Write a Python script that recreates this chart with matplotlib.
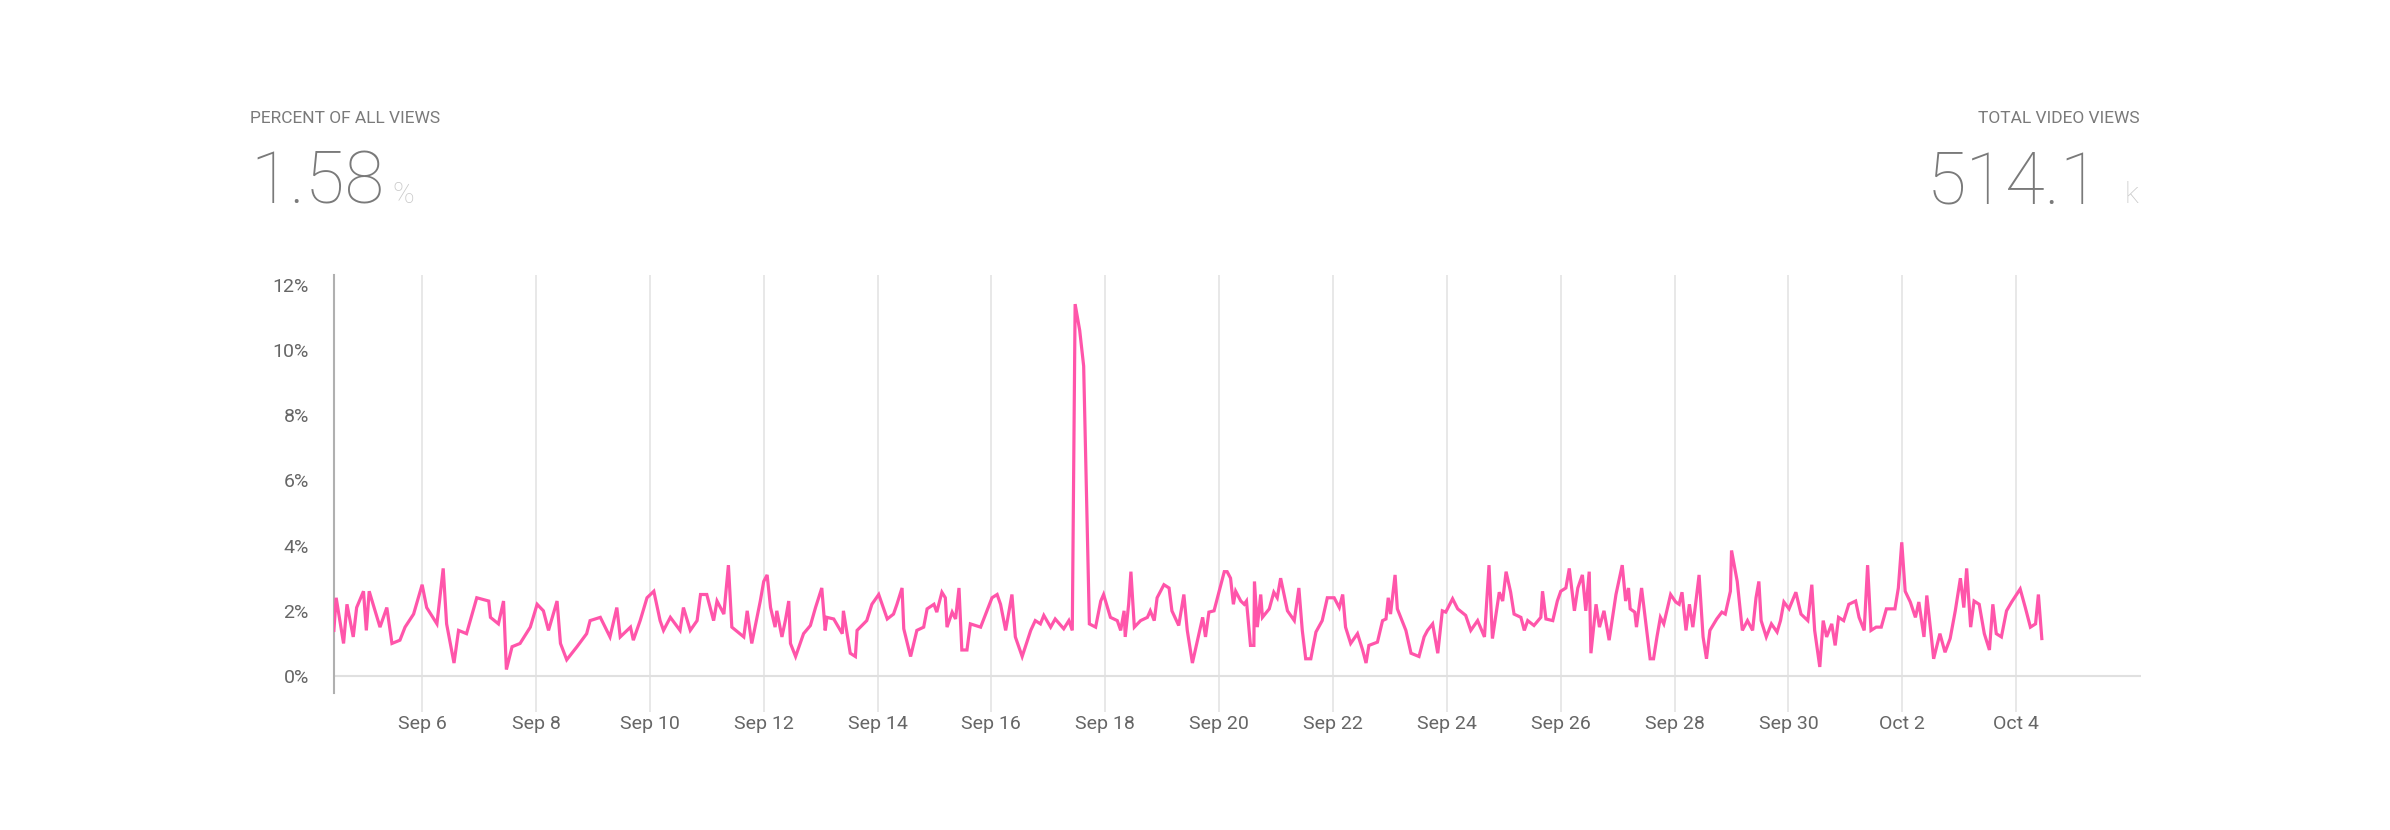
import datetime as dt
import matplotlib
matplotlib.use("Agg")
import matplotlib.pyplot as plt
import matplotlib.dates as mdates
from matplotlib.ticker import FuncFormatter

# day of month (Sep 1 = 1, Oct 1 = 31), fractional
days = [4.45, 4.49, 4.62, 4.68, 4.79, 4.85, 4.97, 5.02, 5.07, 5.26, 5.38, 5.47, 5.61, 5.70, 5.85,
        6.00, 6.08, 6.26, 6.37, 6.43, 6.56, 6.64, 6.78, 6.96, 7.17, 7.20, 7.34, 7.43, 7.48, 7.58,
        7.72, 7.90, 8.02, 8.13, 8.22, 8.37, 8.43, 8.54, 8.72, 8.89, 8.95, 9.13, 9.30, 9.42, 9.48,
        9.66, 9.71, 9.83, 9.95, 10.07, 10.18, 10.24, 10.36, 10.53, 10.59, 10.71, 10.83, 10.89,
        11.00, 11.12, 11.18, 11.30, 11.38, 11.44, 11.65, 11.71, 11.79, 11.94, 12.00, 12.06,
        12.12, 12.20, 12.23, 12.32, 12.38, 12.44, 12.47, 12.56, 12.70, 12.82, 12.91, 13.02, 13.08,
        13.11, 13.23, 13.38, 13.40, 13.52, 13.61, 13.64, 13.81, 13.90, 14.02, 14.08, 14.17, 14.28,
        14.34, 14.43, 14.46, 14.58, 14.69, 14.81, 14.87, 14.99, 15.04, 15.13, 15.19, 15.22, 15.31,
        15.37, 15.43, 15.48, 15.57, 15.63, 15.81, 15.92, 16.01, 16.10, 16.16, 16.25, 16.30, 16.36,
        16.42, 16.54, 16.69, 16.77, 16.86, 16.92, 17.04, 17.12, 17.27, 17.36, 17.42, 17.47, 17.55,
        17.62, 17.72, 17.83, 17.92, 17.97, 18.09, 18.21, 18.27, 18.33, 18.35, 18.41, 18.45, 18.51,
        18.62, 18.74, 18.79, 18.86, 18.91, 19.03, 19.12, 19.17, 19.29, 19.38, 19.44, 19.53, 19.71,
        19.76, 19.82, 19.91, 20.09, 20.14, 20.20, 20.25, 20.29, 20.38, 20.44, 20.48, 20.55, 20.61,
        20.62, 20.67, 20.73, 20.76, 20.88, 20.96, 21.02, 21.08, 21.20, 21.32, 21.40, 21.46, 21.52,
        21.61, 21.70, 21.81, 21.90, 22.02, 22.11, 22.17, 22.22, 22.31, 22.43, 22.52, 22.58, 22.63,
        22.78, 22.87, 22.93, 22.97, 23.01, 23.09, 23.13, 23.28, 23.37, 23.51, 23.60, 23.66, 23.75,
        23.84, 23.92, 23.98, 24.10, 24.19, 24.33, 24.42, 24.54, 24.66, 24.74, 24.80, 24.92, 24.98,
        25.04, 25.12, 25.18, 25.30, 25.36, 25.42, 25.53, 25.65, 25.68, 25.74, 25.86, 25.94, 26.00,
        26.09, 26.15, 26.24, 26.30, 26.38, 26.44, 26.50, 26.53, 26.62, 26.68, 26.76, 26.85, 26.97,
        27.08, 27.14, 27.19, 27.22, 27.30, 27.33, 27.42, 27.51, 27.57, 27.63, 27.69, 27.75, 27.81,
        27.93, 28.02, 28.08, 28.13, 28.20, 28.26, 28.32, 28.43, 28.50, 28.56, 28.62, 28.74, 28.83,
        28.89, 28.98, 29.00, 29.10, 29.19, 29.28, 29.37, 29.43, 29.48, 29.52, 29.61, 29.70, 29.80,
        29.86, 29.92, 30.01, 30.13, 30.22, 30.34, 30.41, 30.46, 30.55, 30.61, 30.67, 30.76, 30.82,
        30.88, 30.97, 31.06, 31.18, 31.24, 31.33, 31.39, 31.45, 31.54, 31.63, 31.72, 31.87, 31.93,
        31.99, 32.05, 32.14, 32.23, 32.29, 32.38, 32.43, 32.51, 32.55, 32.66, 32.75, 32.84, 32.93,
        33.02, 33.08, 33.13, 33.20, 33.26, 33.35, 33.44, 33.53, 33.59, 33.65, 33.74, 33.83, 33.92,
        34.07, 34.16, 34.25, 34.34, 34.39, 34.45]

pct = [1.4, 2.4, 1.0, 2.2, 1.2, 2.1, 2.6, 1.4, 2.6, 1.5, 2.1, 1.0, 1.1, 1.5, 1.9,
       2.8, 2.1, 1.6, 3.3, 1.6, 0.4, 1.4, 1.3, 2.4, 2.3, 1.8, 1.6, 2.3, 0.2, 0.9,
       1.0, 1.5, 2.2, 2.0, 1.4, 2.3, 1.0, 0.5, 0.9, 1.3, 1.7, 1.8, 1.2, 2.1, 1.2,
       1.5, 1.1, 1.7, 2.4, 2.6, 1.7, 1.4, 1.8, 1.4, 2.1, 1.4, 1.7, 2.5,
       2.5, 1.7, 2.3, 1.9, 3.4, 1.5, 1.2, 2.0, 1.0, 2.3, 2.9, 3.1,
       2.1, 1.5, 2.0, 1.2, 1.7, 2.3, 1.0, 0.6, 1.3, 1.55, 2.1, 2.7, 1.4,
       1.8, 1.75, 1.3, 2.0, 0.7, 0.6, 1.4, 1.7, 2.2, 2.5, 2.2, 1.75, 1.9,
       2.2, 2.7, 1.45, 0.6, 1.4, 1.5, 2.06, 2.2, 1.96, 2.57, 2.4, 1.5, 1.96,
       1.75, 2.7, 0.8, 0.8, 1.6, 1.5, 2.0, 2.4, 2.5, 2.2, 1.4, 1.9, 2.5,
       1.2, 0.6, 1.4, 1.7, 1.6, 1.86, 1.5, 1.75, 1.45, 1.7, 1.4, 11.4, 10.6,
       9.5, 1.6, 1.5, 2.3, 2.5, 1.8, 1.7, 1.4, 2.0, 1.2, 2.2, 3.2, 1.5,
       1.7, 1.8, 2.0, 1.7, 2.4, 2.8, 2.7, 2.0, 1.55, 2.5, 1.4, 0.4, 1.8,
       1.2, 1.96, 2.0, 3.2, 3.2, 3.0, 2.2, 2.6, 2.3, 2.2, 2.3, 0.94, 0.94,
       2.9, 1.5, 2.5, 1.8, 2.06, 2.57, 2.4, 3.0, 2.0, 1.7, 2.7, 1.4, 0.53,
       0.53, 1.35, 1.7, 2.4, 2.4, 2.1, 2.5, 1.5, 1.0, 1.3, 0.8, 0.4, 0.94,
       1.04, 1.7, 1.75, 2.4, 1.9, 3.1, 2.06, 1.4, 0.7, 0.6, 1.2, 1.4, 1.6,
       0.7, 2.0, 1.96, 2.37, 2.06, 1.86, 1.4, 1.7, 1.2, 3.4, 1.15, 2.57, 2.3,
       3.2, 2.57, 1.9, 1.8, 1.4, 1.7, 1.55, 1.8, 2.6, 1.75, 1.7, 2.3, 2.6,
       2.7, 3.3, 2.0, 2.7, 3.1, 2.0, 3.2, 0.7, 2.2, 1.5, 2.0, 1.1, 2.5,
       3.4, 2.3, 2.7, 2.06, 1.96, 1.5, 2.7, 1.4, 0.53, 0.53, 1.2, 1.8, 1.6,
       2.5, 2.27, 2.2, 2.57, 1.4, 2.2, 1.5, 3.1, 1.2, 0.53, 1.4, 1.75, 1.96,
       1.9, 2.6, 3.85, 2.9, 1.4, 1.7, 1.4, 2.4, 2.9, 1.7, 1.2, 1.6, 1.35,
       1.7, 2.27, 2.06, 2.57, 1.9, 1.7, 2.8, 1.4, 0.28, 1.7, 1.2, 1.6, 0.94,
       1.8, 1.7, 2.2, 2.3, 1.8, 1.4, 3.4, 1.4, 1.5, 1.5, 2.06, 2.06, 2.7,
       4.1, 2.6, 2.27, 1.8, 2.27, 1.2, 2.47, 1.2, 0.53, 1.3, 0.73, 1.15, 2.0,
       3.0, 2.1, 3.3, 1.5, 2.3, 2.2, 1.3, 0.8, 2.2, 1.3, 1.2, 2.0, 2.27,
       2.67, 2.1, 1.5, 1.6, 2.5, 1.15]

tick_days = [6, 8, 10, 12, 14, 16, 18, 20, 22, 24, 26, 28, 30, 32, 34]
y_ticks = [0, 2, 4, 6, 8, 10, 12]

base = dt.datetime(2023, 9, 1)
to_date = lambda d: base + dt.timedelta(days=d - 1)
x = [to_date(d) for d in days]

plt.rcParams["font.family"] = ["Roboto", "DejaVu Sans"]
grey = "#7a7a7a"
light = "#c8c8c8"

fig = plt.figure(figsize=(23.9, 8.3), dpi=100)
ax = fig.add_axes([0.1397, 0.165, 0.7563, 0.504])

ax.plot(x, pct, color="#ff55aa", lw=2.3, solid_joinstyle="miter", zorder=3)

ax.set_xlim(to_date(4.45), to_date(36.2))
ax.set_ylim(-0.52, 12.3)
ax.set_xticks([to_date(d) for d in tick_days])
ax.xaxis.set_major_formatter(mdates.DateFormatter("%b %-d"))
ax.set_yticks(y_ticks)
ax.yaxis.set_major_formatter(FuncFormatter(lambda v, p: f"{v:.0f}%"))

for d in tick_days:
    ax.axvline(to_date(d), color="#e6e6e6", lw=1.3, zorder=1)
ax.axhline(0, color="#e0e0e0", lw=1.5, zorder=1)

for s in ["top", "right", "bottom"]:
    ax.spines[s].set_visible(False)
ax.spines["left"].set_color("#b0b0b0")
ax.spines["left"].set_linewidth(1.5)
ax.tick_params(axis="x", length=14, width=1.3, color="#e6e6e6", labelsize=14,
               labelcolor="#666666", pad=2)
ax.tick_params(axis="y", length=0, labelsize=14, labelcolor="#666666", pad=18)

# header
fig.text(250 / 2390, 1 - 123 / 830, "PERCENT OF ALL VIEWS", fontsize=12.5, color=grey)
fig.text(2140 / 2390, 1 - 123 / 830, "TOTAL VIDEO VIEWS", fontsize=12.5, color=grey, ha="right")
big = fig.text(250 / 2390, 1 - 203 / 830, "1.58", fontsize=52, color=grey, weight="light")
fig.canvas.draw()
bb = big.get_window_extent()
fig.text((bb.x1 + 8) / 2390, 1 - 203 / 830, "%", fontsize=21, color=light, weight="light")
fig.text(2138 / 2390, 1 - 203 / 830, "k", fontsize=21, color=light, weight="light", ha="right")
fig.text(2100 / 2390, 1 - 203 / 830, "514.1", fontsize=52, color=grey, weight="light", ha="right")

fig.savefig("out.png", dpi=100)
